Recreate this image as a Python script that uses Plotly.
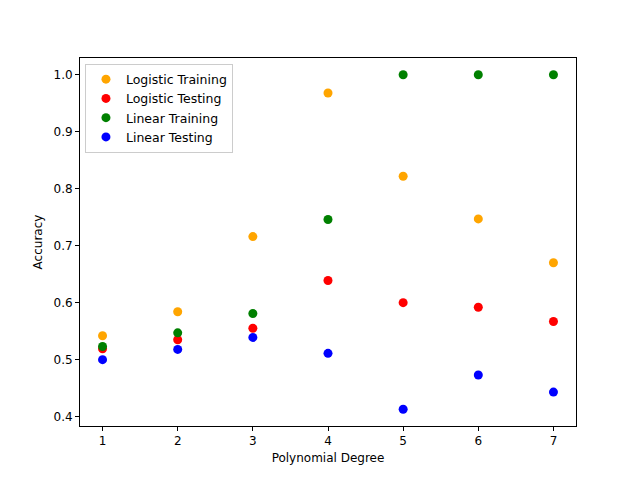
import plotly.graph_objects as go

degrees = [1, 2, 3, 4, 5, 6, 7]
logistic_train = [0.542, 0.584, 0.716, 0.968, 0.822, 0.747, 0.670]
logistic_test = [0.519, 0.535, 0.555, 0.639, 0.600, 0.592, 0.567]
linear_train = [0.523, 0.547, 0.581, 0.746, 1.0, 1.0, 1.0]
linear_test = [0.500, 0.518, 0.539, 0.511, 0.413, 0.473, 0.443]

series = [("Logistic Training", logistic_train, "orange"),
          ("Logistic Testing", logistic_test, "red"),
          ("Linear Training", linear_train, "green"),
          ("Linear Testing", linear_test, "blue")]

fig = go.Figure()
for name, vals, col in series:
    fig.add_trace(go.Scatter(x=degrees, y=vals, mode="markers", name=name,
                             marker=dict(color=col, size=9)))

axis = dict(showgrid=False, zeroline=False, showline=True, linecolor="black", mirror=True,
            ticks="outside", ticklen=4, tickcolor="black", tickfont=dict(size=12))
fig.update_layout(
    width=640, height=480, plot_bgcolor="white", paper_bgcolor="white",
    margin=dict(l=72, r=72, t=50, b=62),
    font=dict(family="DejaVu Sans", size=12, color="black"),
    xaxis=dict(axis, title=dict(text="Polynomial Degree", standoff=6, font=dict(size=12)),
               range=[0.7, 7.3], dtick=1),
    yaxis=dict(axis, title=dict(text="Accuracy", standoff=8, font=dict(size=12)),
               range=[0.3835, 1.0295], dtick=0.1, tickformat=".1f"),
    legend=dict(x=0.01, y=0.985, xanchor="left", yanchor="top", bordercolor="#cccccc",
                borderwidth=1, bgcolor="rgba(255,255,255,0.8)", font=dict(size=12.5)),
)
fig.write_html("out.html")
